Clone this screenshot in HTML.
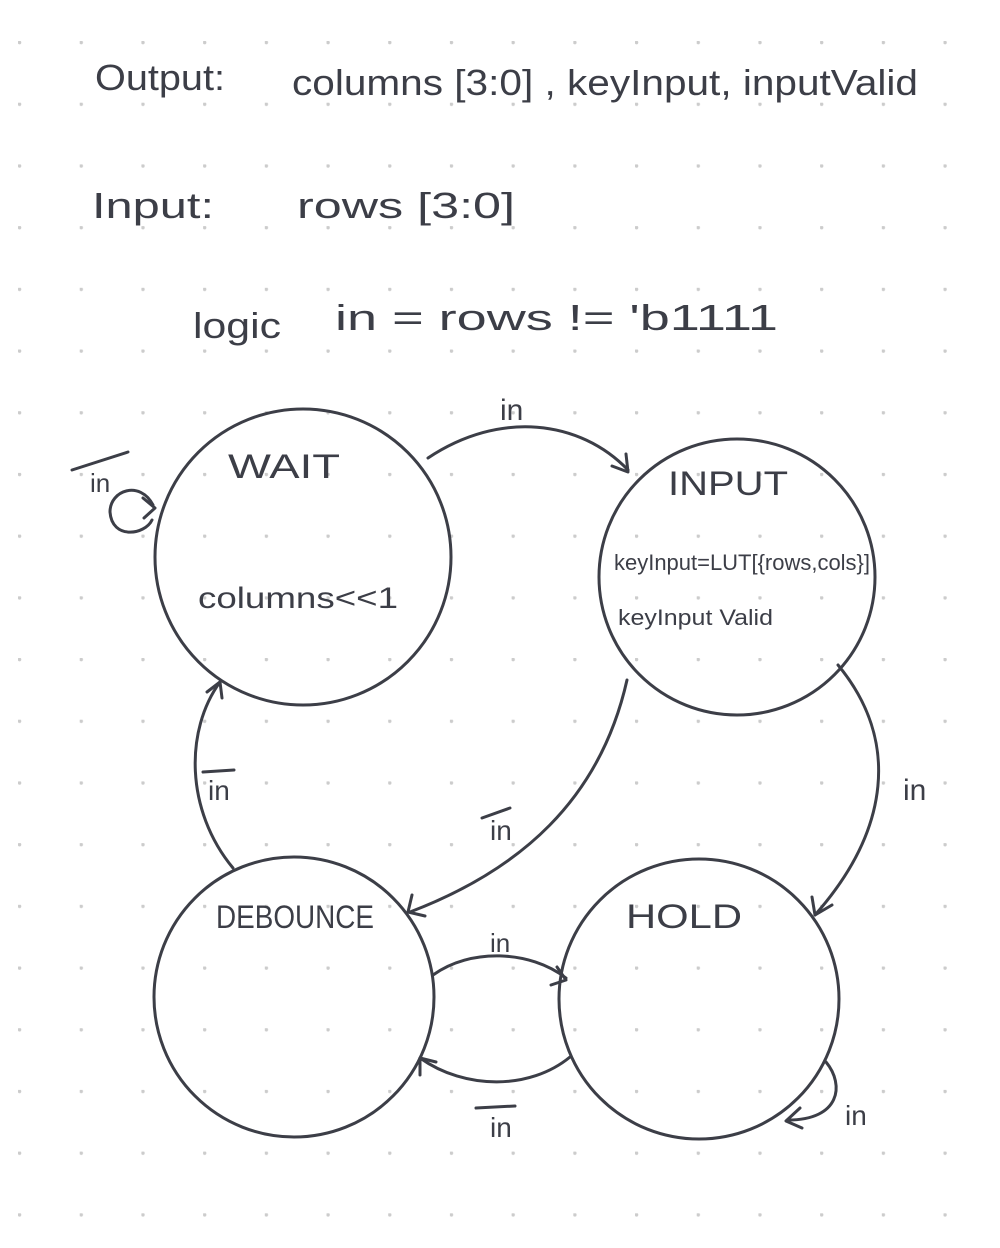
<!DOCTYPE html>
<html><head><meta charset="utf-8"><style>
html,body{margin:0;padding:0;background:#fff;}
svg{display:block}
text{font-family:"Liberation Sans",sans-serif;fill:#3c3e47;}
</style></head><body>
<svg width="1000" height="1248" viewBox="0 0 1000 1248" xmlns="http://www.w3.org/2000/svg">
<defs>
<pattern id="dots" x="18" y="41" width="61.7" height="61.7" patternUnits="userSpaceOnUse">
<circle cx="1.5" cy="1.5" r="1.8" fill="#cccccc"/>
</pattern>
</defs>
<rect x="0" y="0" width="1000" height="1248" fill="url(#dots)"/>
<g fill="none" stroke="#3c3e47" stroke-width="3" stroke-linecap="round" stroke-linejoin="round">
<circle cx="303" cy="557" r="148"/>
<circle cx="737" cy="577" r="138"/>
<circle cx="294" cy="997" r="140"/>
<circle cx="699" cy="999" r="140"/>
<path d="M428 458 C500 410 580 420 628 470"/>
<path d="M612 466 L628 472 L626 454"/>
<path d="M153 505 C140 480 110 490 110 512 C112 540 145 535 152 520"/>
<path d="M143 498 L155 508 L144 518"/>
<path d="M627 680 C600 800 520 870 410 912"/>
<path d="M412 895 L408 912 L425 916"/>
<path d="M838 665 C900 740 890 830 815 915"/>
<path d="M812 897 L815 915 L832 905"/>
<path d="M233 868 C185 810 185 730 220 682"/>
<path d="M207 692 L220 682 L222 698"/>
<path d="M433 975 C470 948 530 950 566 978"/>
<path d="M551 985 L566 980 L557 967"/>
<path d="M570 1057 C530 1090 465 1090 420 1058"/>
<path d="M420 1075 L420 1058 L436 1062"/>
<path d="M826 1062 C845 1085 840 1120 788 1120"/>
<path d="M800 1108 L786 1121 L802 1128"/>
<path d="M72 470 L128 452"/>
<path d="M203 772 L234 770"/>
<path d="M482 818 L510 808"/>
<path d="M476 1108 L515 1106"/>
</g>
<text x="95" y="90" font-size="36" textLength="130" lengthAdjust="spacingAndGlyphs">Output:</text>
<text x="292" y="95" font-size="36" textLength="626" lengthAdjust="spacingAndGlyphs">columns [3:0] , keyInput, inputValid</text>
<text x="92" y="218" font-size="36" textLength="122" lengthAdjust="spacingAndGlyphs">Input:</text>
<text x="297" y="218" font-size="36" textLength="218" lengthAdjust="spacingAndGlyphs">rows [3:0]</text>
<text x="193" y="338" font-size="36" textLength="88" lengthAdjust="spacingAndGlyphs">logic</text>
<text x="335" y="330" font-size="36" textLength="443" lengthAdjust="spacingAndGlyphs">in = rows != 'b1111</text>
<text x="500" y="420" font-size="30">in</text>
<text x="90" y="492" font-size="26">in</text>
<text x="228" y="478" font-size="34" textLength="112" lengthAdjust="spacingAndGlyphs">WAIT</text>
<text x="198" y="608" font-size="30" textLength="200" lengthAdjust="spacingAndGlyphs">columns&lt;&lt;1</text>
<text x="668" y="495" font-size="34" textLength="120" lengthAdjust="spacingAndGlyphs">INPUT</text>
<text x="614" y="570" font-size="22" textLength="256" lengthAdjust="spacingAndGlyphs">keyInput=LUT[{rows,cols}]</text>
<text x="618" y="625" font-size="22" textLength="155" lengthAdjust="spacingAndGlyphs">keyInput Valid</text>
<text x="208" y="800" font-size="28">in</text>
<text x="490" y="840" font-size="28">in</text>
<text x="903" y="800" font-size="30">in</text>
<text x="216" y="928" font-size="32" textLength="158" lengthAdjust="spacingAndGlyphs">DEBOUNCE</text>
<text x="626" y="928" font-size="34" textLength="116" lengthAdjust="spacingAndGlyphs">HOLD</text>
<text x="490" y="952" font-size="26">in</text>
<text x="490" y="1137" font-size="28">in</text>
<text x="845" y="1125" font-size="28">in</text>
</svg>
</body></html>
